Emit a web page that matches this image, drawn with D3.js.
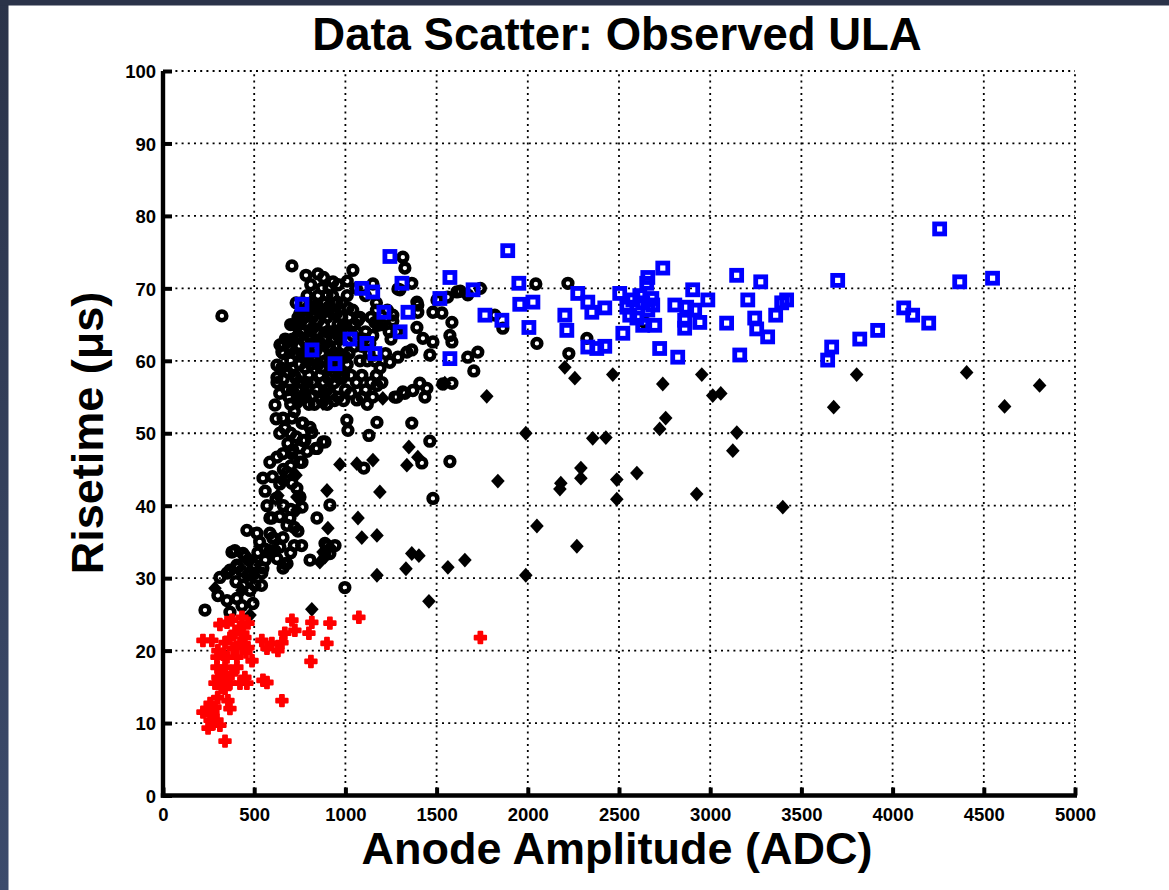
<!DOCTYPE html>
<html><head><meta charset="utf-8">
<script src="https://cdn.jsdelivr.net/npm/d3@7"></script>
<style>html,body{margin:0;padding:0;background:#fff;}svg{display:block;}</style>
</head><body>
<script>
const titleText = "Data Scatter: Observed ULA";
const xLabelText = "Anode Amplitude (ADC)";
const yLabelText = "Risetime (\u03bcs)";
const xTicks = [0,500,1000,1500,2000,2500,3000,3500,4000,4500,5000];
const yTicks = [0,10,20,30,40,50,60,70,80,90,100];

// black open circles
const circlePts = [
[323,66.2],[707,73.1],[784,71.8],[849,72],[1041,72.5],[932,70.9],[1315,74.3],[1326,72.8],[1151,70.6],[1364,70.7],
[1288,69.9],[1611,69.5],[1671,69.1],[1502,68.4],[1392,68.1],[1819,66.3],[1863,64.5],[1480,66.7],[1529,66.6],[1584,65.3],
[1573,63.5],[1584,62.6],[1480,62.6],[1425,63.1],[1392,64.6],[1397,67.7],[1260,66.3],[1260,65.5],[1397,66.7],[1463,60.8],
[1244,59.8],[1337,61.2],[1364,61.5],[1288,60.5],[1671,60.5],[1726,61.2],[1704,58.6],[1584,56.9],[1534,56.8],[1282,55],
[1326,55.5],[1370,55.9],[1408,56.9],[1436,55],[1447,56.2],[1364,51.4],[1573,46.1],[1463,48.9],[1480,41],[1173,51.5],
[1129,49.7],[1008,51.8],[1014,50.4],[981,57.6],[1101,45.2],[1419,45.9],[915,40.1],[844,38.3],[548,43.8],[614,53.9],
[625,57.7],[625,59.4],[625,57],[658,52.1],[707,52.1],[767,51.4],[844,47.9],[877,48.8],[778,49],[586,46],
[751,46],[658,47.2],[712,47.7],[460,36.6],[515,36.2],[597,38.3],[603,35.6],[658,35.6],[888,34.8],[943,34.5],
[641,62.2],[652,61.2],[658,62.2],[685,62.8],[734,65.2],[789,66.3],[844,67.7],[899,69.1],[954,68.1],[1014,67.3],
[1069,65.6],[1162,65.3],[1178,64.9],[1282,64],[1134,62.4],[1123,62.6],[970,57.6],[1063,54.6],[915,59.8],[822,55.2],
[778,55.5],[1173,56.6],[1271,55],[1315,55.7],[1299,69.8],
[668,50.7],[762,51.4],[806,50.8],[816,50.1],[767,49],[838,47.9],[888,48.8],[685,48.6],[707,47.2],[625,46.7],
[762,46],[680,44.6],[707,43.1],[734,42.4],[751,41.2],[762,39.8],[586,38.3],[696,38.3],[680,37.3],[603,35.5],
[586,33.8],[641,34.3],[625,32.7],[680,32],[658,31.4],[915,33.4],[806,32.5],[394,33.8],[438,33.4],[405,31.8],
[504,31.8],[548,31.4],[477,30.7],[542,30.7],[367,31.1],[378,33.6],[411,31.5],[493,31.8],[351,30.7],[466,30.4],
[504,29],[301,27.6],[230,25.6],[367,25.3],[433,26.2],[493,26.5],[477,28.3],[997,28.7],[586,36.2],[614,33.8],
[668,32],[899,34.5],[888,33.4],[312,30.1],[405,27.2],[351,26.9],
[2044,70.6],[2220,70.7],[2050,62.4],[2225,61],[2324,63.1],[2641,65.3],[1630,69.6],[1560,68.8],[1740,70],
[700,60],[720,58],[740,56],[760,57],[780,59],[800,58],[820,57],[840,56],[860,58],[880,57],[900,56],[920,58],[940,57],[960,59],
[690,62],[710,63],[730,61],[750,62],[770,64],[790,61],[810,63],[830,62],[850,64],[870,61],[890,63],[910,62],[930,64],[950,61],[970,63],[990,62],
[720,65],[740,66],[760,64],[780,67],[800,65],[820,66],[840,64],[860,67],[880,65],[900,66],[920,64],[940,67],[960,65],[980,66],[1000,64],
[760,68],[790,69],[820,68],[850,69],[870,70],[890,68],[910,70],[930,69],[950,68],[980,68],[1010,69],[1040,67],
[1020,61],[1050,62],[1080,60],[1100,63],[1130,61],[1160,60],[1190,59],[1220,61],[1250,63],[1030,58],[1060,57],[1090,58],[1110,56],[1140,57],[1170,58],[1200,57],
[1050,65],[1080,66],[1110,64],[1140,66],[1170,67],[1200,65],[1230,67],[1240,64],
[680,56],[700,54],[720,53],[780,55],[800,54],[860,55],[900,54],[960,55],[1000,56],
[650,59],[660,61],[670,63],[700,65],[730,68],[810,70.5],[880,71.5],[960,70.5],[1010,71],[1060,70],[1110,69],[1170,68],
[710,59],[730,57.5],[750,59.5],[770,60.5],[790,57],[810,59.5],[830,60],[850,59.5],[870,59],[890,60],[910,57.5],[930,60.5],[950,59.5],[970,60.5],[990,58],[1010,59.5],
[700,61.5],[740,63.5],[760,61],[780,62.5],[800,63.5],[820,64.5],[840,61.5],[860,62.5],[880,63],[900,64],[920,61.5],[940,63],[960,63.5],[980,64.5],[1000,60.5],[1040,63.5],
[750,66.5],[770,66],[800,67.5],[830,66.5],[850,65.5],[870,66.5],[890,67],[910,67.5],[930,66.5],[950,66.5],[990,65],[1020,66],[1060,64],[1090,62],[1120,60],[1150,63.5],
[640,55.5],[660,57.5],[680,58.5],[690,55],[710,56],[740,54.5],[760,55],[830,54],[880,55.5],[920,55.5],[940,54.5],[990,54.5],[1030,55.5],[1090,55],[1120,54],[1150,55],
[620,52],[640,50],[700,50],[730,49.5],[750,48],[790,47.5],[700,45.5],[660,45],[640,43],[620,41],[660,40],[700,39.5],[640,38.5],[720,37],[740,36.5],[720,34.5],[760,34.5],[700,33.5],
[570,40],[560,42],[600,44],[530,35],[560,34],[450,33],[430,31],[470,32.5],[520,33.5],[400,29.5],[440,29],[540,29],[560,32.5]
];

// blue open squares
const squarePts = [
[762,67.8],[817,61.5],[1244,74.4],[1090,70],[1150,69.5],[1310,70.7],[1211,66.7],[1343,66.7],[1300,64],[1573,71.5],
[1700,69.8],[1518,68.6],[1765,66.3],[1858,65.6],[1573,60.3],[1025,63],[1118,62.4],[1162,61],[943,59.6],[1890,75.2],
[1951,70.7],[1956,67.8],[2028,68.1],[2006,64.6],[2274,69.3],[2329,68.1],[2351,66.7],[2422,67.3],[2203,66.3],[2214,64.2],
[2329,61.9],[2378,61.7],[2422,62],[2504,69.3],[2521,63.8],[2740,72.8],[2658,71.5],[2652,70.7],[2614,69],[2576,68.4],
[2543,67.4],[2559,66.3],[2598,65.9],[2630,64.9],[2685,67.7],[2696,64.9],[2658,67],[2630,68],[2680,68.6],[2723,61.7],
[2822,60.5],[2806,67.7],[2871,67.4],[2904,69.8],[2915,67],[2860,65.6],[2860,64.5],[2943,65.3],[2987,68.4],[3090,65.2],
[3145,71.8],[3162,60.8],[3206,68.4],[3244,65.9],[3255,64.4],[3277,70.9],[3315,63.3],[3359,66.3],[3392,68],[3419,68.4],
[3644,60.1],[3666,61.9],[3699,71.1],[3820,63],[3918,64.2],[4061,67.3],[4110,66.3],[4198,65.2],[4368,70.9],[4548,71.4],
[4258,78.2]
];

// black filled diamonds
const diamondPts = [
[2203,59.1],[2258,57.6],[2466,58.1],[2740,56.8],[2954,58.1],[3014,55.2],[3058,55.5],[3803,58.1],[3677,53.6],[4406,58.4],
[1989,50],[2356,49.3],[2428,49.4],[2756,52.1],[2723,50.6],[3146,50.1],[3124,47.6],[1836,43.4],[2181,43.1],[2176,42.3],
[2291,45.2],[2291,43.8],[2488,43.6],[2488,40.9],[2598,44.5],[2926,41.6],[3398,39.8],[2050,37.2],[2269,34.4],[1989,30.4],
[4614,53.7],[4806,56.6],[1348,48.1],[1397,46.7],[1337,45.6],[1364,33.4],[1403,33.1],[1332,31.3],[1562,31.5],[1655,32.5],
[1458,26.8],[1189,41.9],[1173,35.9],[1173,30.4],[970,45.7],[1063,45.8],[1151,46.3],[1069,38.3],[1090,35.6],[899,42.1],
[630,41.4],[652,43.5],[729,44.2],[904,36.9],[877,33.6],[915,34.3],[860,32.2],[734,41.2],[734,39.4],[816,25.7],
[285,28.6],[477,24.9],[433,28.3],[493,30.4],[888,32.9],[740,54.1],[877,54.1],[1205,54.8],[1775,55.1],[1545,56.9]
];

// red filled crosses
const crossPts = [
[1074,24.6],[915,23.8],[899,21],[816,23.9],[800,22.4],[811,18.5],[723,22.8],[707,24.2],[668,22.4],[652,21.1],
[630,20],[597,21],[570,20.3],[542,21.4],[652,13.1],[570,15.6],[548,15.9],[488,18.6],[433,24.6],[438,22.4],
[312,23.6],[351,23.9],[378,24.2],[219,21.4],[268,21.4],[340,21.1],[367,21.7],[422,21],[449,21.8],[466,20.4],
[384,20.3],[301,20],[296,19.1],[351,19.1],[405,19.1],[296,17.7],[340,17.7],[405,17.7],[378,16.8],[449,16.3],
[460,15.5],[422,15.5],[367,15.5],[312,15.6],[285,15.5],[340,14.8],[323,14.9],[356,13.1],[367,12],[258,12.7],
[241,11.7],[274,11.5],[258,10.4],[296,10.4],[312,9.7],[247,9.3],[274,9.9],[285,12.2],[340,7.5],[219,11.5],
[323,17],[301,16.3],[340,16.2],[466,23.8],[1740,21.8],[395,22.5],[420,23.2],[300,13.5],[330,19.5],[455,19.8]
];

const W = 1169, H = 890;
const svg = d3.select("body").append("svg").attr("width", W).attr("height", H);
const defs = svg.append("defs");
const grad = defs.append("linearGradient").attr("id","bord").attr("x1",0).attr("y1",0).attr("x2",0).attr("y2",1);
grad.append("stop").attr("offset","0%").attr("stop-color","#2b3349");
grad.append("stop").attr("offset","100%").attr("stop-color","#3c4b6c");
svg.append("rect").attr("width",W).attr("height",H).attr("fill","#fff");
svg.append("rect").attr("x",0).attr("y",0).attr("width",8.5).attr("height",H).attr("fill","url(#bord)");
svg.append("rect").attr("x",0).attr("y",0).attr("width",W).attr("height",5.5).attr("fill","#2b3349");

const x = d3.scaleLinear().domain([0,5000]).range([163,1075]);
const y = d3.scaleLinear().domain([0,100]).range([795.5,71]);
const font = "'Liberation Sans', Arial, Helvetica, sans-serif";

// grid
const grid = svg.append("g").attr("stroke","#000").attr("stroke-width",1.8).attr("stroke-dasharray","2,4.2");
grid.selectAll("line.v").data(xTicks.filter(d=>d>0)).join("line")
  .attr("x1",d=>x(d)).attr("x2",d=>x(d)).attr("y1",y(0)).attr("y2",y(100));
grid.selectAll("line.h").data(yTicks.filter(d=>d>0)).join("line")
  .attr("y1",d=>y(d)).attr("y2",d=>y(d)).attr("x1",x(0)).attr("x2",x(5000));

// markers
const plot = svg.append("g");
plot.selectAll("circle.c").data(circlePts).join("circle")
  .attr("cx",d=>x(d[0])).attr("cy",d=>y(d[1])).attr("r",4.4)
  .attr("fill","none").attr("stroke","#000").attr("stroke-width",4.5);
plot.selectAll("rect.s").data(squarePts).join("rect")
  .attr("x",d=>x(d[0])-5).attr("y",d=>y(d[1])-5).attr("width",10).attr("height",10)
  .attr("fill","none").attr("stroke","#0000ff").attr("stroke-width",4.8);
const diamond = "M0,-7.4L6.8,0L0,7.4L-6.8,0Z";
plot.selectAll("path.d").data(diamondPts).join("path")
  .attr("d",diamond).attr("transform",d=>`translate(${x(d[0])},${y(d[1])})`)
  .attr("fill","#000");
const cross = d3.symbol().type(d3.symbolCross).size(72)();
plot.selectAll("path.r").data(crossPts).join("path")
  .attr("d",cross).attr("transform",d=>`translate(${x(d[0])},${y(d[1])})`)
  .attr("fill","#ff0000").attr("stroke","#ff0000").attr("stroke-width",2).attr("stroke-linejoin","round");

// axes
const xAxis = d3.axisBottom(x).tickValues(xTicks).tickFormat(d3.format("d")).tickSizeInner(-8).tickSizeOuter(0).tickPadding(12);
const yAxis = d3.axisLeft(y).tickValues(yTicks).tickFormat(d3.format("d")).tickSizeInner(-9).tickSizeOuter(0).tickPadding(7);
const gx = svg.append("g").attr("transform",`translate(0,${y(0)})`).call(xAxis);
const gy = svg.append("g").attr("transform",`translate(${x(0)},0)`).call(yAxis);
[gx,gy].forEach(g=>{
  g.select(".domain").attr("stroke","#000").attr("stroke-width",4.4);
  g.selectAll(".tick line").attr("stroke","#000").attr("stroke-width",4);
  g.selectAll(".tick text").attr("fill","#000").attr("font-family",font).attr("font-weight","bold").attr("font-size",18.5);
});
gy.selectAll(".tick text").attr("dy","0.36em");
gx.select(".domain").attr("d",`M${x(0)-2.2},0H${x(5000)+2}`);
gy.select(".domain").attr("d",`M0,${y(0)+2.2}V${y(100)}`);

// texts
svg.append("text").attr("x",617).attr("y",50).attr("text-anchor","middle")
  .attr("font-family",font).attr("font-weight","bold").attr("font-size",45.5).text(titleText);
svg.append("text").attr("x",617).attr("y",864).attr("text-anchor","middle")
  .attr("font-family",font).attr("font-weight","bold").attr("font-size",45).text(xLabelText);
svg.append("text").attr("transform","translate(103,433) rotate(-90)").attr("text-anchor","middle")
  .attr("font-family",font).attr("font-weight","bold").attr("font-size",45).text(yLabelText);
</script>
</body></html>
